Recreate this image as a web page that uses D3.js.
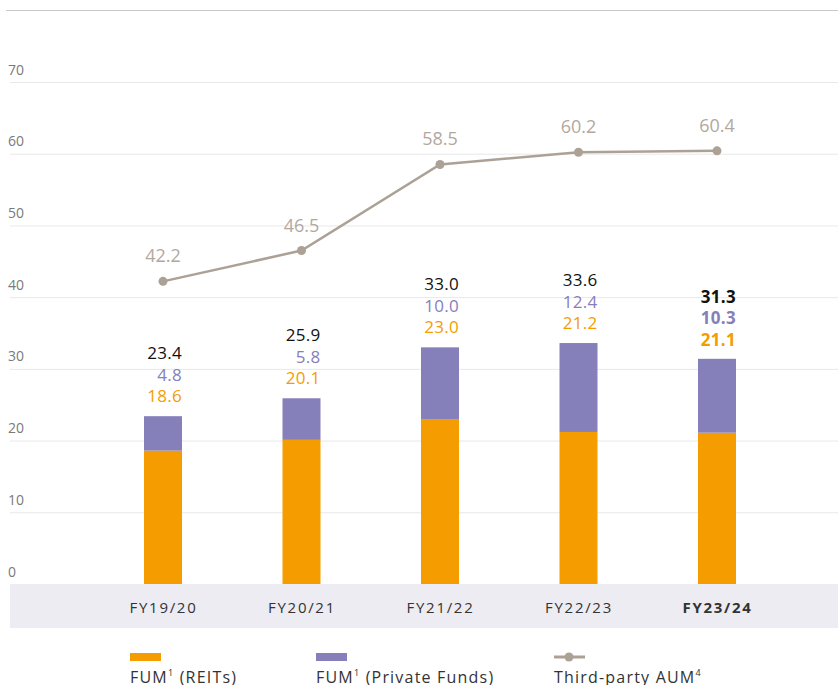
<!DOCTYPE html>
<html>
<head>
<meta charset="utf-8">
<script src="https://cdn.jsdelivr.net/npm/d3@7"></script>
<style>
  body { margin: 0; background: #fff; }
  svg { display: block; font-family: "Open Sans", sans-serif; }
</style>
</head>
<body>
<div id="chart"></div>
<script>
// data
const years = ["FY19/20", "FY20/21", "FY21/22", "FY22/23", "FY23/24"]
const reits = [18.6, 20.1, 23.0, 21.2, 21.1]
const privateFunds = [4.8, 5.8, 10.0, 12.4, 10.3]
const totals = [23.4, 25.9, 33.0, 33.6, 31.3]
const thirdParty = [42.2, 46.5, 58.5, 60.2, 60.4]
const yTicks = [0, 10, 20, 30, 40, 50, 60, 70]

const W = 838, H = 685
const ORANGE = "#f59c00", PURPLE = "#8680ba", LINE = "#aca195", LINELBL = "#b2a89e"
const BAR_W = 38
const FONT = "'Open Sans', sans-serif"

const svg = d3.select("#chart").append("svg")
    .attr("width", W)
    .attr("height", H)

const x = d3.scalePoint()
    .domain(years)
    .range([163, 717])

const y = d3.scaleLinear()
    .domain([0, 70])
    .range([584, 82])

// top rule
svg.append("line")
    .attr("x1", 6).attr("x2", W)
    .attr("y1", 10.5).attr("y2", 10.5)
    .attr("stroke", "#c9c9c9")

// gridlines + y labels
const yAxis = d3.axisLeft(y)
    .tickValues(yTicks)
    .tickSize(-(W - 10))
    .tickFormat(d3.format("d"))

const yg = svg.append("g")
    .attr("transform", "translate(10,0)")
    .call(yAxis)
    .attr("font-family", FONT)
yg.select(".domain").remove()
yg.selectAll(".tick line").attr("stroke", "#e8e8e8")
yg.selectAll(".tick text")
    .attr("x", -2)
    .attr("dy", -8)
    .attr("text-anchor", "start")
    .attr("fill", "#7a7a7a")
    .attr("font-size", 14)

// x band
svg.append("rect")
    .attr("x", 10).attr("y", y(0))
    .attr("width", W - 10).attr("height", 44)
    .attr("fill", "#ececf2")

const xg = svg.append("g")
    .attr("transform", `translate(0, ${y(0)})`)
    .call(d3.axisBottom(x).tickSize(0))
    .attr("font-family", FONT)
xg.select(".domain").remove()
xg.selectAll(".tick text")
    .attr("dy", 0)
    .attr("y", 29)
    .attr("fill", "#333")
    .attr("font-size", 15)
    .attr("letter-spacing", 1.7)
    .attr("font-weight", (d, i) => i === years.length - 1 ? "bold" : "normal")

// stacked bars
const stackRows = years.map((yr, i) => ({ yr, reits: reits[i], pf: privateFunds[i] }))
const series = d3.stack().keys(["reits", "pf"])(stackRows)
const colors = { reits: ORANGE, pf: PURPLE }

svg.selectAll(".layer")
    .data(series)
    .enter().append("g")
        .attr("class", "layer")
        .attr("fill", d => colors[d.key])
    .selectAll("rect")
    .data(d => d)
    .enter().append("rect")
        .attr("x", d => x(d.data.yr) - BAR_W / 2)
        .attr("width", BAR_W)
        .attr("y", d => y(d[1]))
        .attr("height", d => y(d[0]) - y(d[1]))

// bar labels
const fmt = d3.format(".1f")
const labelRows = [
    { vals: reits, color: ORANGE, off: 0 },
    { vals: privateFunds, color: PURPLE, off: 1 },
    { vals: totals, color: "#111", off: 2 }
]
labelRows.forEach(row => {
    svg.selectAll(null)
        .data(years)
        .enter().append("text")
        .attr("x", d => x(d) + BAR_W / 2)
        .attr("y", (d, i) => y(totals[i]) - 14 - row.off * 21.5)
        .attr("text-anchor", "end")
        .attr("fill", row.color)
        .attr("font-size", 17)
        .attr("letter-spacing", 0.3)
        .attr("font-weight", (d, i) => i === years.length - 1 ? "bold" : "normal")
        .text((d, i) => fmt(row.vals[i]))
})

// third-party line
const line = d3.line()
    .x((d, i) => x(years[i]))
    .y(d => y(d))

svg.append("path")
    .datum(thirdParty)
    .attr("d", line)
    .attr("fill", "none")
    .attr("stroke", LINE)
    .attr("stroke-width", 2.5)

svg.selectAll(".dot")
    .data(thirdParty)
    .enter().append("circle")
        .attr("class", "dot")
        .attr("cx", (d, i) => x(years[i]))
        .attr("cy", d => y(d))
        .attr("r", 4.5)
        .attr("fill", LINE)

svg.selectAll(".lineLabel")
    .data(thirdParty)
    .enter().append("text")
        .attr("class", "lineLabel")
        .attr("x", (d, i) => x(years[i]))
        .attr("y", d => y(d) - 19)
        .attr("text-anchor", "middle")
        .attr("fill", LINELBL)
        .attr("font-size", 18)
        .text(d => fmt(d))

// legend
const legend = svg.append("g")
const legendItems = [
    { x: 130, label: "FUM", sup: "1", rest: " (REITs)", type: "rect", color: ORANGE },
    { x: 316, label: "FUM", sup: "1", rest: " (Private Funds)", type: "rect", color: PURPLE },
    { x: 554, label: "Third-party AUM", sup: "4", rest: "", type: "line", color: LINE }
]
legendItems.forEach(it => {
    if (it.type === "rect") {
        legend.append("rect")
            .attr("x", it.x).attr("y", 653)
            .attr("width", 31).attr("height", 8)
            .attr("fill", it.color)
    } else {
        legend.append("line")
            .attr("x1", it.x).attr("x2", it.x + 31)
            .attr("y1", 657).attr("y2", 657)
            .attr("stroke", it.color).attr("stroke-width", 3)
        legend.append("circle")
            .attr("cx", it.x + 15).attr("cy", 657).attr("r", 4.5)
            .attr("fill", it.color)
    }
    const t = legend.append("text")
        .attr("x", it.x).attr("y", 683)
        .attr("fill", "#333")
        .attr("font-size", 16)
        .attr("letter-spacing", 1.2)
    t.append("tspan").text(it.label)
    t.append("tspan").attr("font-size", 9).attr("dy", -7).text(it.sup)
    t.append("tspan").attr("dy", 7).text(it.rest)
})
</script>
</body>
</html>
